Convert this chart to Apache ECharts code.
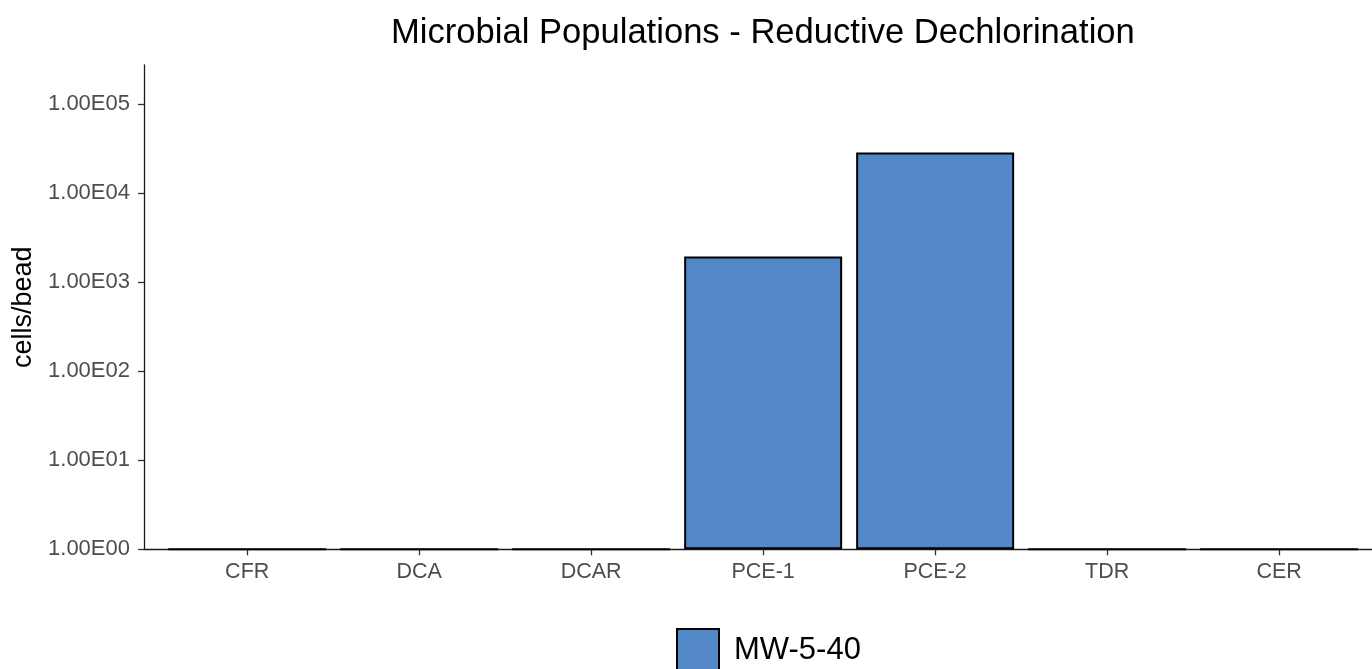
<!DOCTYPE html>
<html>
<head>
<meta charset="utf-8">
<title>Microbial Populations - Reductive Dechlorination</title>
<script src="https://cdn.jsdelivr.net/npm/echarts@6/dist/echarts.min.js"></script>
<style>
  html, body { margin: 0; padding: 0; background: #ffffff; }
  #chart { width: 1372px; height: 669px; }
</style>
</head>
<body>
<div id="chart"></div>
<script>
// Gene targets along the x axis
const categories = ['CFR', 'DCA', 'DCAR', 'PCE-1', 'PCE-2', 'TDR', 'CER'];
// Cells per bead for well MW-5-40 (1 = not detected, sits on the baseline)
const mw540 = [1, 1, 1, 1950, 28700, 1, 1];
const seriesName = 'MW-5-40';

const FONT = '"Liberation Sans", Arial, sans-serif';
const positions = categories.map((_, i) => i + 1);

// 1, 10, 100 ... written as 1.00E00, 1.00E01, 1.00E02 ...
function sci(v) {
  const e = Math.round(Math.log10(v));
  if (Math.abs(v - Math.pow(10, e)) > 1e-6 * v) return '';
  return '1.00E' + (e < 10 ? '0' + e : String(e));
}

const chart = echarts.init(document.getElementById('chart'), null, { renderer: 'canvas' });

chart.setOption({
  animation: false,
  backgroundColor: '#ffffff',
  title: {
    text: 'Microbial Populations - Reductive Dechlorination',
    left: 391,
    top: 16,
    padding: 0,
    textStyle: { fontFamily: FONT, fontSize: 34.6, fontWeight: 'normal', color: '#000000' }
  },
  legend: {
    left: 676,
    top: 628,
    padding: 0,
    itemWidth: 42,
    itemHeight: 42,
    icon: 'rect',
    data: [seriesName],
    textStyle: { fontFamily: FONT, fontSize: 31, color: '#000000', padding: [0, 0, 0, 10] }
  },
  grid: {
    left: 144,
    top: 65,
    right: 0,
    height: 484.3,
    containLabel: false
  },
  xAxis: {
    type: 'value',
    min: 0.4,
    max: 7.54,
    splitLine: { show: false },
    axisLine: { show: true, lineStyle: { color: '#1a1a1a', width: 1.3 } },
    axisTick: { show: true, customValues: positions, length: 6, lineStyle: { color: '#333333', width: 1.3 } },
    axisLabel: {
      customValues: positions,
      formatter: v => categories[Math.round(v) - 1] || '',
      fontFamily: FONT, fontSize: 21.5, color: '#4d4d4d', margin: 12
    }
  },
  yAxis: {
    type: 'log',
    logBase: 10,
    min: 1,
    max: 276000,
    name: 'cells/bead',
    nameLocation: 'middle',
    nameRotate: 90,
    nameGap: 102,
    nameTextStyle: { fontFamily: FONT, fontSize: 27, color: '#000000' },
    splitLine: { show: false },
    axisLine: { show: true, lineStyle: { color: '#1a1a1a', width: 1.3 } },
    axisTick: { show: true, length: 6, lineStyle: { color: '#333333', width: 1.3 } },
    axisLabel: {
      formatter: v => sci(v),
      showMaxLabel: false,
      fontFamily: FONT, fontSize: 22, color: '#4d4d4d', margin: 14
    }
  },
  series: [{
    name: seriesName,
    type: 'bar',
    barWidth: 158,
    data: positions.map((p, i) => [p, mw540[i]]),
    itemStyle: { color: '#5388c8', borderColor: '#000000', borderWidth: 2 }
  }]
});
</script>
</body>
</html>
